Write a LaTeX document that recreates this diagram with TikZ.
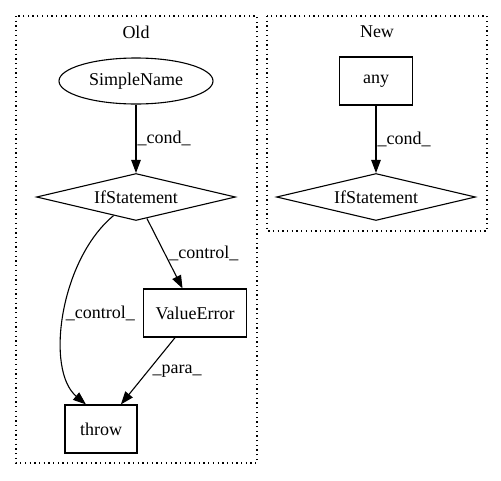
\documentclass[tikz,border=0pt]{standalone}
\usepackage{fontspec}
\setmainfont{Liberation Serif}
\usepackage{tikz}
\usetikzlibrary{arrows.meta,shapes.geometric}

\begin{document}
\begin{tikzpicture}[x=1pt,y=-1pt,
  font=\fontsize{18}{20}\selectfont, line width=1.1pt,
  box/.style={draw,rectangle,inner sep=0pt,minimum height=48pt},
  cond/.style={draw,diamond,aspect=4.2,inner sep=0pt,minimum width=199pt,minimum height=47pt},
  cluster/.style={line width=1.2pt,dash pattern=on 1.3pt off 3.4pt}]
\useasboundingbox (0,0) rectangle (501,480);
\draw[cluster] (16,16) rectangle (257,463);
\draw[cluster] (267,16) rectangle (487,231);
\node (Old) at (136,32) {Old};
\node (New) at (377,32) {New};
\node[draw,ellipse,inner sep=0pt,minimum width=154pt,minimum height=46pt] (SN) at (136,81) {SimpleName};
\node[cond] (IF) at (136,197) {IfStatement};
\node[box,minimum width=103pt] (VE) at (195,313) {ValueError};
\node[box,minimum width=72pt] (TH) at (101,429) {throw};
\node[box,minimum width=73pt] (AN) at (376,81) {any};
\node[cond] (IF2) at (376,197) {IfStatement};
\path[->, >={Triangle[length=13pt,width=9.5pt]}]
(SN) edge node[right,inner sep=1pt]{\_cond\_} (IF)
(IF) edge node[right,inner sep=4pt,pos=0.5]{\_control\_} (VE)
(VE) edge node[right,inner sep=4pt,pos=0.5]{\_para\_} (TH)
(AN) edge node[right,inner sep=1pt]{\_cond\_} (IF2);
\draw[->, >={Triangle[length=13pt,width=9.5pt]}]
(IF) .. controls (60,260) and (45,370) .. ([xshift=-15pt]TH.north)
node[right,inner sep=1pt,pos=0.5]{\_control\_};
\end{tikzpicture}
\end{document}
